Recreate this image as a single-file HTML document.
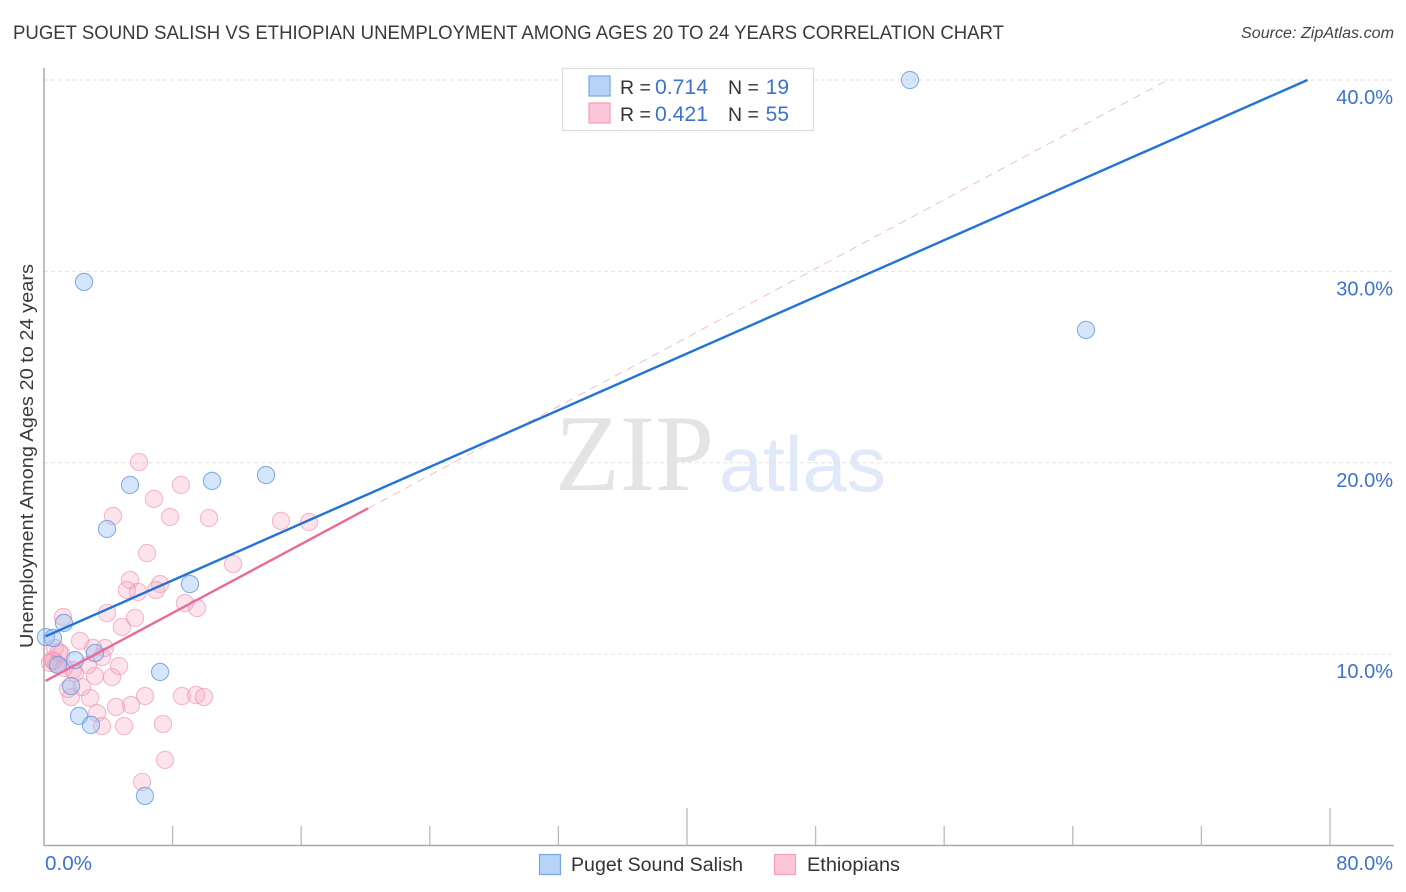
<!DOCTYPE html>
<html lang="en">
<head>
<meta charset="utf-8">
<title>Puget Sound Salish vs Ethiopian Unemployment Correlation Chart</title>
<style>
html,body{margin:0;padding:0;background:#fff;width:1406px;height:892px;overflow:hidden}
svg{display:block}
text{font-family:"Liberation Sans",sans-serif}
</style>
</head>
<body>
<svg id="chart" xmlns="http://www.w3.org/2000/svg" width="1406" height="892" viewBox="0 0 1406 892">
  <text x="13" y="39" font-size="19.5" fill="#3a3a3a" textLength="991" lengthAdjust="spacingAndGlyphs">PUGET SOUND SALISH VS ETHIOPIAN UNEMPLOYMENT AMONG AGES 20 TO 24 YEARS CORRELATION CHART</text>
  <text x="1241" y="38" font-size="15.5" font-style="italic" fill="#444" textLength="153" lengthAdjust="spacingAndGlyphs">Source: ZipAtlas.com</text>
  <text x="555" y="490" font-size="109" fill="#e4e4e4" textLength="159" lengthAdjust="spacingAndGlyphs" style="font-family:'Liberation Serif',serif">ZIP</text>
  <text x="719" y="491" font-size="78" fill="#e0e9f9" textLength="167" lengthAdjust="spacingAndGlyphs">atlas</text>
  <g id="grid"></g>
  <g id="axes"></g>
  <g id="points"></g>
  <g id="lines"></g>
  <text transform="translate(33,456) rotate(-90)" font-size="18.5" fill="#3a3a3a" text-anchor="middle" textLength="384" lengthAdjust="spacingAndGlyphs">Unemployment Among Ages 20 to 24 years</text>

  <g>
    <rect x="562.5" y="68.5" width="251" height="62" fill="#fff" stroke="#ddd" stroke-width="1.2"/>
    <rect x="589" y="76" width="21" height="20" fill="#b7d3f7" stroke="#7aa7e2" stroke-width="1.2"/>
    <rect x="589" y="103" width="21" height="20" fill="#fcc6d8" stroke="#f0a0bb" stroke-width="1.2"/>
    <text x="620" y="94" font-size="19.5" fill="#333">R =</text>
    <text x="655" y="94" font-size="21" fill="#3d72d0" textLength="53" lengthAdjust="spacingAndGlyphs">0.714</text>
    <text x="728" y="94" font-size="19.5" fill="#333">N =</text>
    <text x="789" y="94" font-size="21" fill="#3d72d0" text-anchor="end">19</text>
    <text x="620" y="121" font-size="19.5" fill="#333">R =</text>
    <text x="655" y="121" font-size="21" fill="#3d72d0" textLength="53" lengthAdjust="spacingAndGlyphs">0.421</text>
    <text x="728" y="121" font-size="19.5" fill="#333">N =</text>
    <text x="789" y="121" font-size="21" fill="#3d72d0" text-anchor="end">55</text>
  </g>

  <g>
    <rect x="539.5" y="854.5" width="21" height="20" fill="#b7d3f7" stroke="#7aa7e2" stroke-width="1.2"/>
    <text x="571" y="871" font-size="19.5" fill="#333" textLength="172" lengthAdjust="spacingAndGlyphs">Puget Sound Salish</text>
    <rect x="774.5" y="854.5" width="21" height="20" fill="#fcc6d8" stroke="#f0a0bb" stroke-width="1.2"/>
    <text x="807" y="871" font-size="19.5" fill="#333" textLength="93" lengthAdjust="spacingAndGlyphs">Ethiopians</text>
  </g>
</svg>
<script>
const xTickValues = [0, 8, 16, 24, 32, 40, 48, 56, 64, 72, 80];
const xMajorTicks = [40, 80];
const xTickLabels = ["0.0%", "80.0%"];
const yTickValues = [10, 20, 30, 40];
const yTickLabels = ["10.0%", "20.0%", "30.0%", "40.0%"];

const blueX = [0.12, 0.56, 1.24, 1.93, 3.17, 1.68, 2.18, 2.92, 7.22, 6.28, 9.08, 5.35, 10.45, 13.81, 3.92, 2.49, 53.87, 64.82, 0.87];
const blueY = [10.89, 10.84, 11.63, 9.69, 10.06, 8.33, 6.77, 6.30, 9.07, 2.59, 13.66, 18.84, 19.05, 19.36, 16.54, 29.45, 40.0, 26.94, 9.43];

const pinkX = [5.91, 8.52, 6.84, 4.29, 7.84, 10.26, 14.74, 16.49, 6.41, 11.76, 7.22, 6.97, 5.35, 5.16, 5.85, 8.77, 9.52, 3.92, 4.85, 5.66, 1.18, 8.58, 9.46, 9.95, 6.28, 5.41, 4.48, 7.40, 7.53, 6.10, 4.98, 3.61, 3.30, 2.86, 1.68, 1.49, 2.36, 3.17, 4.23, 4.67, 3.79, 3.05, 3.61, 2.74, 1.80, 2.24, 0.50, 0.68, 0.93, 0.37, 1.06, 0.75, 1.93, 1.24, 0.62];
const pinkY = [20.04, 18.84, 18.11, 17.22, 17.17, 17.11, 16.96, 16.90, 15.28, 14.71, 13.66, 13.35, 13.87, 13.35, 13.25, 12.67, 12.41, 12.15, 11.42, 11.89, 11.94, 7.81, 7.86, 7.76, 7.81, 7.34, 7.24, 6.35, 4.47, 3.32, 6.24, 6.24, 6.92, 7.71, 7.76, 8.18, 8.28, 8.86, 8.80, 9.38, 10.32, 10.32, 9.85, 9.43, 9.17, 10.69, 9.69, 10.32, 10.11, 9.54, 10.01, 9.48, 9.01, 9.28, 9.64];

const blueTrendX = [0.1, 78.6];
const blueTrendY = [10.93, 40.0];
const pinkSolidX = [0.1, 20.16];
const pinkSolidY = [8.6, 17.62];
const pinkDashX = [20.16, 69.9];
const pinkDashY = [17.62, 40.0];

const NS = "http://www.w3.org/2000/svg";
function xScale(v) { return 44 + v * (1330 - 44) / 80; }
function yScale(v) { return 845.5 - v * (845.5 - 80) / 40; }
function make(tag, attrs, parent) {
  const el = document.createElementNS(NS, tag);
  for (const k in attrs) el.setAttribute(k, attrs[k]);
  parent.appendChild(el);
  return el;
}

const gridG = document.getElementById("grid");
const axesG = document.getElementById("axes");
const pointsG = document.getElementById("points");
const linesG = document.getElementById("lines");

yTickValues.forEach(function (v, i) {
  const line = make("line", {x1: 44, x2: 1394, y1: yScale(v), y2: yScale(v), stroke: "#e2e2e2", "stroke-width": 1, "stroke-dasharray": "4 3"}, gridG);
  
  
  const label = make("text", {x: 1393, y: yScale(v) + 24, "font-size": 20, fill: "#3d72d0", "text-anchor": "end"}, axesG);
  label.textContent = yTickLabels[i];
  
  
});

const yAxisLine = make("line", {x1: 44, x2: 44, y1: 68, y2: 846, stroke: "#aaa", "stroke-width": 1.5}, axesG);


const xAxisLine = make("line", {x1: 44, x2: 1394, y1: 845.5, y2: 845.5, stroke: "#aaa", "stroke-width": 1.5}, axesG);



xTickValues.forEach(function (v) {
  if (v === 0) return;
  const top = xMajorTicks.indexOf(v) >= 0 ? 808 : 826;
  const tick = make("line", {x1: xScale(v), x2: xScale(v), y1: top, y2: 845, stroke: "#bbb", "stroke-width": 1.3}, axesG);
  
  
});

const xLabelLeft = make("text", {x: 45, y: 870, "font-size": 20, fill: "#3d72d0", textLength: 47, lengthAdjust: "spacingAndGlyphs"}, axesG);
xLabelLeft.textContent = xTickLabels[0];


const xLabelRight = make("text", {x: 1393, y: 870, "font-size": 20, fill: "#3d72d0", "text-anchor": "end"}, axesG);
xLabelRight.textContent = xTickLabels[1];



pinkX.forEach(function (v, i) {
  const c = make("circle", {cx: xScale(v), cy: yScale(pinkY[i]), r: 8.6, fill: "#f8a5c0", "fill-opacity": 0.3, stroke: "#ec8fae", "stroke-opacity": 0.6, "stroke-width": 1.1}, pointsG);
  
  
});
blueX.forEach(function (v, i) {
  const c = make("circle", {cx: xScale(v), cy: yScale(blueY[i]), r: 8.6, fill: "#9cc2f2", "fill-opacity": 0.42, stroke: "#5b93dd", "stroke-opacity": 0.72, "stroke-width": 1.1}, pointsG);
  
  
});

const pinkDash = make("line", {x1: xScale(pinkDashX[0]), y1: yScale(pinkDashY[0]), x2: xScale(pinkDashX[1]), y2: yScale(pinkDashY[1]), stroke: "#f0afc6", "stroke-width": 0.8, "stroke-dasharray": "8 6"}, linesG);


const blueLine = make("line", {x1: xScale(blueTrendX[0]), y1: yScale(blueTrendY[0]), x2: xScale(blueTrendX[1]), y2: yScale(blueTrendY[1]), stroke: "#2272d8", "stroke-width": 2.4}, linesG);


const pinkLine = make("line", {x1: xScale(pinkSolidX[0]), y1: yScale(pinkSolidY[0]), x2: xScale(pinkSolidX[1]), y2: yScale(pinkSolidY[1]), stroke: "#e96a9b", "stroke-width": 2.4}, linesG);


</script>
</body>
</html>
